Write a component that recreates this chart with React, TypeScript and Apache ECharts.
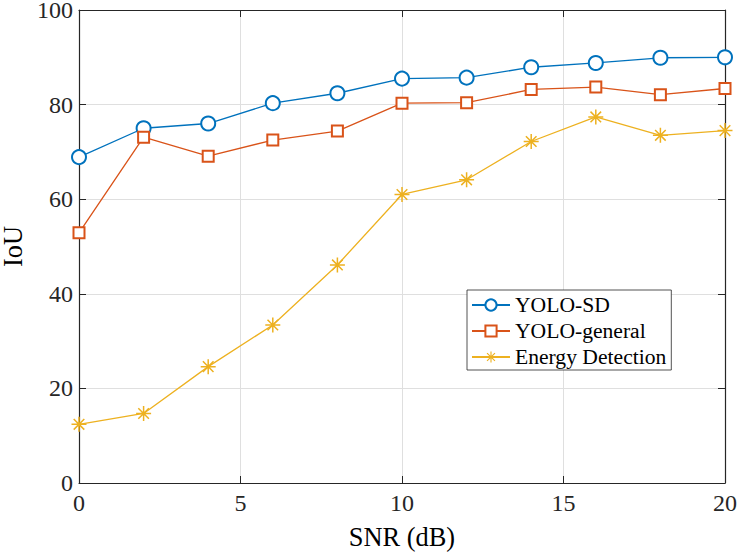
import React, { useEffect, useRef } from "react";
import * as echarts from "echarts";

const snr = [0, 2, 4, 6, 8, 10, 12, 14, 16, 18, 20];
const yoloSD = [68.9, 75.0, 76.0, 80.3, 82.4, 85.5, 85.7, 87.9, 88.8, 89.9, 90.0];
const yoloGeneral = [52.9, 73.1, 69.1, 72.5, 74.4, 80.3, 80.4, 83.2, 83.7, 82.1, 83.4];
const energyDetection = [12.4, 14.7, 24.6, 33.4, 46.1, 61.0, 64.1, 72.2, 77.4, 73.5, 74.5];
const seriesNames = ["YOLO-SD", "YOLO-general", "Energy Detection"];
const xName = "SNR (dB)";
const yName = "IoU";

const FONT = "Liberation Serif";
const AX = "#262626";
const COLORS = ["#0072BD", "#D95319", "#EDB120"];

const STAR =
  "path://M-0.1,-1L0.1,-1L0.1,1L-0.1,1Z" +
  "M-1,-0.1L1,-0.1L1,0.1L-1,0.1Z" +
  "M-0.636,-0.778L0.778,0.636L0.636,0.778L-0.778,-0.636Z" +
  "M-0.778,0.636L0.636,-0.778L0.778,-0.636L-0.636,0.778Z";

export default function App() {
  const ref = useRef<HTMLDivElement>(null);
  useEffect(() => {
    if (!ref.current) return;
    const chart = echarts.init(ref.current, undefined, { renderer: "svg" });
    const pair = (arr: number[]) => snr.map((x, i) => [x, arr[i]]);
    const baseX = { type: "value", min: 0, max: 20, interval: 5 };
    const baseY = { type: "value", min: 0, max: 100, interval: 20 };
    const line = { show: true, onZero: false, lineStyle: { color: AX, width: 1.2 } };
    const tick = { show: true, inside: true, length: 7, lineStyle: { color: AX, width: 1 } };
    chart.setOption({
      animation: false,
      backgroundColor: "#fff",
      grid: {
        left: 79,
        right: 14,
        top: 10,
        bottom: 71,
        containLabel: false,
        outerBoundsMode: "none",
      },
      legend: {
        orient: "vertical",
        left: 467,
        top: 290,
        padding: [4, 5, 2, 4],
        itemWidth: 38,
        itemHeight: 14,
        itemGap: 4,
        backgroundColor: "#fff",
        borderColor: AX,
        borderWidth: 0.8,
        borderRadius: 0,
        textStyle: { fontFamily: FONT, fontSize: 21.6, color: "#000", lineHeight: 22 },
        data: seriesNames,
      },
      xAxis: [
        {
          ...baseX,
          position: "bottom",
          name: xName,
          nameLocation: "middle",
          nameGap: 41,
          nameTextStyle: { fontFamily: FONT, fontSize: 26.4, color: "#000", lineHeight: 26 },
          axisLine: line,
          axisTick: tick,
          axisLabel: { fontFamily: FONT, fontSize: 24, color: AX, margin: 9, lineHeight: 22 },
          splitLine: { show: true, lineStyle: { color: "#dfdfdf", width: 1 } },
        },
        {
          ...baseX,
          position: "top",
          axisLine: line,
          axisTick: tick,
          axisLabel: { show: false },
          splitLine: { show: false },
        },
      ],
      yAxis: [
        {
          ...baseY,
          position: "left",
          name: yName,
          nameLocation: "middle",
          nameGap: 54,
          nameTextStyle: { fontFamily: FONT, fontSize: 26.4, color: "#000", lineHeight: 22 },
          axisLine: line,
          axisTick: tick,
          axisLabel: { fontFamily: FONT, fontSize: 24, color: AX, margin: 6, lineHeight: 18 },
          splitLine: { show: true, lineStyle: { color: "#dfdfdf", width: 1 } },
        },
        {
          ...baseY,
          position: "right",
          axisLine: line,
          axisTick: tick,
          axisLabel: { show: false },
          splitLine: { show: false },
        },
      ],
      series: [
        {
          name: seriesNames[0],
          type: "line",
          data: pair(yoloSD),
          symbol: "emptyCircle",
          symbolSize: 14,
          color: COLORS[0],
          lineStyle: { width: 1.3, color: COLORS[0] },
          itemStyle: { color: COLORS[0], borderColor: COLORS[0], borderWidth: 1.3 },
          z: 3,
        },
        {
          name: seriesNames[1],
          type: "line",
          data: pair(yoloGeneral),
          symbol: "emptyRect",
          symbolSize: 11,
          color: COLORS[1],
          lineStyle: { width: 1.3, color: COLORS[1] },
          itemStyle: { color: COLORS[1], borderColor: COLORS[1], borderWidth: 1.3 },
          z: 3,
        },
        {
          name: seriesNames[2],
          type: "line",
          data: pair(energyDetection),
          symbol: STAR,
          symbolKeepAspect: true,
          symbolSize: 15,
          color: COLORS[2],
          lineStyle: { width: 1.3, color: COLORS[2] },
          itemStyle: { color: COLORS[2] },
          z: 3,
        },
      ],
    });
    return () => chart.dispose();
  }, []);
  return (
    <div
      ref={ref}
      style={{ position: "fixed", left: 0, top: 0, width: 739, height: 554 }}
    />
  );
}
